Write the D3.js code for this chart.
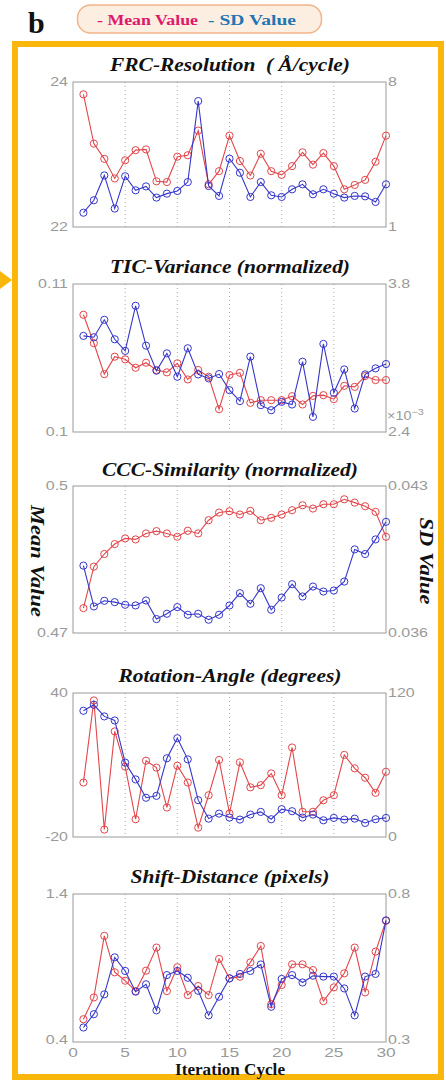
<!DOCTYPE html>
<html><head><meta charset="utf-8">
<script src="https://cdn.jsdelivr.net/npm/d3@7"></script>
<style>html,body{margin:0;padding:0;background:#fff;}svg{display:block;} text{white-space:pre;}</style>
</head><body>
<svg id="c" width="446" height="1080"></svg>
<script>
const cycles = d3.range(1, 31);
const xTicks = [0, 5, 10, 15, 20, 25, 30];

const titles = ["FRC-Resolution  ( Å/cycle)", "TIC-Variance (normalized)", "CCC-Similarity (normalized)", "Rotation-Angle (degrees)", "Shift-Distance (pixels)"];
const leftDomains = [[22, 24], [0.1, 0.11], [0.47, 0.5], [-20, 40], [0.4, 1.4]];
const rightDomains = [[1, 8], [2.4, 3.8], [0.036, 0.043], [0, 120], [0.3, 0.8]];
const leftTickLabels = [["22", "24"], ["0.1", "0.11"], ["0.47", "0.5"], ["-20", "40"], ["0.4", "1.4"]];
const rightTickLabels = [["1", "8"], ["2.4", "3.8"], ["0.036", "0.043"], ["0", "120"], ["0.3", "0.8"]];

const frcMean = [23.83, 23.15, 22.94, 22.67, 22.92, 23.06, 23.07, 22.63, 22.62, 22.97, 22.99, 23.33, 22.59, 22.77, 23.26, 22.91, 22.71, 23.01, 22.77, 22.72, 22.84, 23.03, 22.86, 23.02, 22.84, 22.52, 22.58, 22.65, 22.90, 23.26];
const frcSD = [1.69, 2.29, 3.49, 1.89, 3.45, 2.77, 2.96, 2.42, 2.61, 2.74, 3.17, 7.08, 2.98, 2.50, 4.30, 3.62, 2.45, 3.17, 2.53, 2.45, 2.82, 3.06, 2.58, 2.82, 2.61, 2.42, 2.50, 2.48, 2.21, 3.06];
const ticMean = [0.10792, 0.10600, 0.10391, 0.10509, 0.10491, 0.10434, 0.10468, 0.10419, 0.10403, 0.10464, 0.10355, 0.10419, 0.10373, 0.10154, 0.10385, 0.10400, 0.10197, 0.10215, 0.10215, 0.10215, 0.10242, 0.10186, 0.10244, 0.10249, 0.10222, 0.10312, 0.10305, 0.10378, 0.10351, 0.10351];
const ticSD = [3.309, 3.296, 3.461, 3.277, 3.167, 3.594, 3.217, 2.980, 3.144, 2.923, 3.192, 2.945, 2.907, 2.948, 2.796, 2.692, 3.113, 2.654, 2.606, 2.685, 2.660, 3.065, 2.543, 3.233, 2.771, 2.992, 2.622, 2.945, 3.002, 3.043];
const cccMean = [0.47508, 0.48354, 0.48612, 0.48815, 0.48930, 0.48910, 0.49032, 0.49079, 0.49032, 0.48964, 0.49086, 0.49032, 0.49302, 0.49458, 0.49485, 0.49418, 0.49492, 0.49302, 0.49350, 0.49418, 0.49506, 0.49607, 0.49540, 0.49628, 0.49628, 0.49729, 0.49661, 0.49587, 0.49472, 0.48964];
const cccSD = [0.039208, 0.037264, 0.037533, 0.037470, 0.037343, 0.037312, 0.037549, 0.036664, 0.036917, 0.037233, 0.036869, 0.036917, 0.036632, 0.036869, 0.037312, 0.037896, 0.037391, 0.038133, 0.037106, 0.037691, 0.038323, 0.037738, 0.038212, 0.037975, 0.038023, 0.038449, 0.039982, 0.039761, 0.040456, 0.041294];
const rotMean = [2.7, 36.9, -16.9, 24.0, 9.3, -12.6, 11.8, 8.9, -7.7, 9.7, 2.7, -16.1, -2.6, 12.1, -10.2, 11.1, 0.7, 1.6, 6.5, -2.6, 17.3, -9.5, -9.5, -4.7, -2.6, 14.2, 8.6, 4.7, -1.6, 7.2];
const rotSD = [105.2, 110.2, 100.5, 97.1, 62.0, 48.0, 32.7, 34.3, 65.6, 82.3, 64.7, 30.7, 15.3, 19.5, 16.2, 14.5, 18.7, 20.9, 14.8, 23.2, 21.5, 16.2, 18.7, 13.9, 15.9, 14.5, 15.3, 11.7, 14.8, 15.9];
const shiftMean = [0.554, 0.701, 1.117, 0.871, 0.814, 0.744, 0.882, 1.038, 0.744, 0.905, 0.717, 0.778, 0.717, 0.961, 0.830, 0.841, 0.938, 1.049, 0.656, 0.785, 0.925, 0.925, 0.886, 0.676, 0.769, 0.864, 1.038, 0.735, 1.011, 1.219];
const shiftSD = [0.349, 0.394, 0.461, 0.586, 0.540, 0.470, 0.495, 0.407, 0.526, 0.540, 0.517, 0.473, 0.390, 0.453, 0.515, 0.530, 0.540, 0.562, 0.419, 0.513, 0.526, 0.501, 0.524, 0.521, 0.521, 0.481, 0.390, 0.521, 0.530, 0.711];

const meanSeries = [frcMean, ticMean, cccMean, rotMean, shiftMean];
const sdSeries = [frcSD, ticSD, cccSD, rotSD, shiftSD];

const svg = d3.select("#c");
const ORANGE = "#F9B70C";
const RED = "#E2464B";
const BLUE = "#3636CA";
const GRAY = "#9a9a9a";
const SANS = "Liberation Sans, Arial, sans-serif";
const SERIF = "Liberation Serif, serif";
const STRETCH = 1.28;

function stretchText(parent, x, y, txt, anchor, size) {
  return parent.append("g").attr("transform", `translate(${x},${y}) scale(${STRETCH},1)`)
    .append("text").attr("x", 0).attr("y", 0).attr("dy", "0.35em").attr("text-anchor", anchor)
    .attr("font-family", SANS).attr("font-size", size).attr("fill", GRAY).text(txt);
}

// header
svg.append("text").attr("x", 28).attr("y", 33).attr("font-family", SERIF)
  .attr("font-weight", "bold").attr("font-size", 30).attr("fill", "#111").text("b");
svg.append("rect").attr("x", 77.5).attr("y", 5).attr("width", 244).attr("height", 28).attr("rx", 13)
  .attr("fill", "#FDEEE2").attr("stroke", "#F2B48A").attr("stroke-width", 1.5);
svg.append("text").attr("x", 97).attr("y", 24.5).attr("font-family", SERIF).attr("font-weight", "bold")
  .attr("font-size", 15).attr("fill", "#E0186C").attr("textLength", 101).attr("lengthAdjust", "spacingAndGlyphs")
  .text("- Mean Value");
svg.append("text").attr("x", 208).attr("y", 24.5).attr("font-family", SERIF).attr("font-weight", "bold")
  .attr("font-size", 15).attr("fill", "#1F76B4").attr("textLength", 88).attr("lengthAdjust", "spacingAndGlyphs")
  .text("- SD Value");

// frame
svg.append("rect").attr("x", 15).attr("y", 44).attr("width", 426).attr("height", 1033)
  .attr("fill", "#fff").attr("stroke", ORANGE).attr("stroke-width", 6);
svg.append("path").attr("d", "M0,271 L12,280 L0,289 Z").attr("fill", ORANGE);

const x = d3.scaleLinear().domain([0, 30]).range([73, 386]);
const plotTops = [82, 284, 486, 693, 894];
const plotBottoms = [227, 432, 633, 837, 1042];
const titleY = [71, 273, 476, 682, 883];
const titleW = [240, 240, 256, 223, 199];

for (let i = 0; i < 5; i++) {
  const top = plotTops[i], bot = plotBottoms[i];
  const yl = d3.scaleLinear().domain(leftDomains[i]).range([bot, top]);
  const yr = d3.scaleLinear().domain(rightDomains[i]).range([bot, top]);
  const g = svg.append("g");

  g.append("text").attr("x", 230).attr("y", titleY[i]).attr("text-anchor", "middle")
    .attr("font-family", SERIF).attr("font-weight", "bold").attr("font-style", "italic")
    .attr("font-size", 19).attr("fill", "#111")
    .attr("textLength", titleW[i]).attr("lengthAdjust", "spacingAndGlyphs").text(titles[i]);

  g.selectAll(".grid").data([5, 10, 15, 20, 25]).join("line")
    .attr("x1", d => x(d)).attr("x2", d => x(d)).attr("y1", top).attr("y2", bot)
    .attr("stroke", "#aaa").attr("stroke-width", 1).attr("stroke-dasharray", "1,3");

  g.append("rect").attr("x", x(0)).attr("y", top).attr("width", x(30) - x(0)).attr("height", bot - top)
    .attr("fill", "none").attr("stroke", GRAY).attr("stroke-width", 1);

  const ld = leftDomains[i], rd = rightDomains[i];
  [0, 1].forEach(k => {
    const lift = (i === 4 && k === 0) ? -2 : 0;
    stretchText(g, 68, yl(ld[k]) + lift, leftTickLabels[i][k], "end", 12.5);
    stretchText(g, 388, yr(rd[k]) + lift, rightTickLabels[i][k], "start", 12.5);
  });

  if (i === 1) {
    const m = g.append("g").attr("transform", `translate(387,${bot - 12}) scale(1.2,1)`)
      .append("text").attr("font-family", SANS).attr("font-size", 12).attr("fill", GRAY);
    m.append("tspan").text("×10");
    m.append("tspan").attr("dy", -5).attr("font-size", 9).text("−3");
  }

  const lineL = d3.line().x((d, k) => x(cycles[k])).y(d => yl(d));
  const lineR = d3.line().x((d, k) => x(cycles[k])).y(d => yr(d));

  g.append("path").attr("d", lineL(meanSeries[i])).attr("fill", "none").attr("stroke", RED).attr("stroke-width", 1.1);
  g.selectAll(".mc").data(meanSeries[i]).join("circle")
    .attr("cx", (d, k) => x(cycles[k])).attr("cy", d => yl(d)).attr("r", 3.6)
    .attr("fill", "none").attr("stroke", RED).attr("stroke-width", 1);

  g.append("path").attr("d", lineR(sdSeries[i])).attr("fill", "none").attr("stroke", BLUE).attr("stroke-width", 1.1);
  g.selectAll(".sc").data(sdSeries[i]).join("circle")
    .attr("cx", (d, k) => x(cycles[k])).attr("cy", d => yr(d)).attr("r", 3.6)
    .attr("fill", "none").attr("stroke", BLUE).attr("stroke-width", 1);

  if (i === 4) {
    xTicks.forEach(d => stretchText(g, x(d), bot + 10, String(d), "middle", 13.5));
  }
}

svg.append("text").attr("x", 230).attr("y", 1075).attr("text-anchor", "middle")
  .attr("font-family", SERIF).attr("font-weight", "bold").attr("font-size", 16)
  .attr("fill", "#111").attr("textLength", 110).attr("lengthAdjust", "spacingAndGlyphs").text("Iteration Cycle");

svg.append("text").attr("transform", "translate(31,561) rotate(90)").attr("text-anchor", "middle")
  .attr("font-family", SERIF).attr("font-weight", "bold").attr("font-style", "italic")
  .attr("font-size", 19).attr("fill", "#111").attr("textLength", 112).attr("lengthAdjust", "spacingAndGlyphs")
  .text("Mean Value");
svg.append("text").attr("transform", "translate(420,561) rotate(90)").attr("text-anchor", "middle")
  .attr("font-family", SERIF).attr("font-weight", "bold").attr("font-style", "italic")
  .attr("font-size", 19).attr("fill", "#111").attr("textLength", 87).attr("lengthAdjust", "spacingAndGlyphs")
  .text("SD Value");
</script>
</body></html>
